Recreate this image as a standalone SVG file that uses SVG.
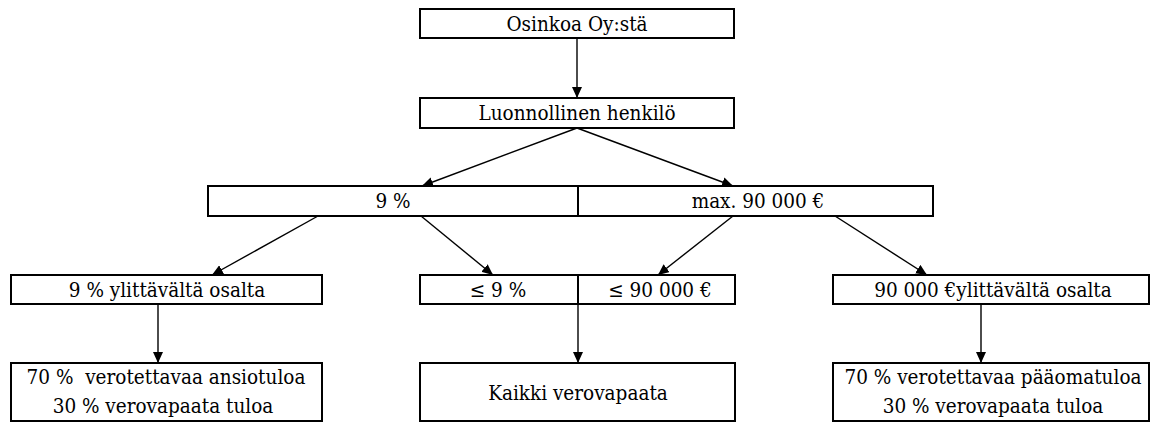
<svg xmlns="http://www.w3.org/2000/svg" width="1159" height="423" viewBox="0 0 1159 423">
<style>
.box{fill:#fff;stroke:#000;stroke-width:2}
.div{stroke:#000;stroke-width:2}
.t{font-family:"DejaVu Serif Condensed","DejaVu Serif",serif;font-size:20.5px;fill:#000;text-anchor:middle;white-space:pre}
.c{stroke:#000;stroke-width:1.4;fill:none;marker-end:url(#ah)}
</style>
<defs>
<marker id="ah" markerUnits="userSpaceOnUse" markerWidth="12" markerHeight="10" refX="11" refY="5" orient="auto">
<path d="M0,0 L11,5 L0,10 z" fill="#000"/>
</marker>
</defs>
<rect width="1159" height="423" fill="#fff"/>
<g id="connectors">
<line class="c" x1="577" y1="38" x2="577" y2="98"/>
<line class="c" x1="577" y1="128" x2="422" y2="186"/>
<line class="c" x1="577" y1="128" x2="733" y2="186"/>
<line class="c" x1="318" y1="216" x2="212" y2="275"/>
<line class="c" x1="421" y1="216" x2="493" y2="275"/>
<line class="c" x1="733" y1="216" x2="658" y2="275"/>
<line class="c" x1="835" y1="216" x2="927" y2="275"/>
<line class="c" x1="158" y1="304" x2="158" y2="363"/>
<line class="c" x1="578" y1="304" x2="578" y2="363"/>
<line class="c" x1="981" y1="304" x2="981" y2="363"/>
</g>
<g id="n1">
<rect class="box" x="420" y="9" width="314" height="29"/>
<text class="t" x="577" y="31">Osinkoa Oy:stä</text>
</g>
<g id="n2">
<rect class="box" x="420" y="98" width="314" height="30"/>
<text class="t" x="577" y="120">Luonnollinen henkilö</text>
</g>
<g id="n3">
<rect class="box" x="208" y="186" width="725" height="30"/>
<line class="div" x1="578" y1="186" x2="578" y2="216"/>
<text class="t" x="393" y="208">9 %</text>
<text class="t" x="758" y="208">max. 90 000 €</text>
</g>
<g id="n4a">
<rect class="box" x="11" y="275" width="311" height="29"/>
<text class="t" x="167" y="297">9 % ylittävältä osalta</text>
</g>
<g id="n4b">
<rect class="box" x="420" y="275" width="315" height="29"/>
<line class="div" x1="578" y1="275" x2="578" y2="304"/>
<text class="t" x="498" y="297">≤ 9 %</text>
<text class="t" x="660" y="297">≤ 90 000 €</text>
</g>
<g id="n4c">
<rect class="box" x="833" y="275" width="316" height="29"/>
<text class="t" x="993" y="297">90 000 €ylittävältä osalta</text>
</g>
<g id="n5a">
<rect class="box" x="11" y="363" width="311" height="58"/>
<text class="t" x="166" y="384">70 %  verotettavaa ansiotuloa</text>
<text class="t" x="163" y="413">30 % verovapaata tuloa</text>
</g>
<g id="n5b">
<rect class="box" x="420" y="363" width="315" height="58"/>
<text class="t" x="578" y="400">Kaikki verovapaata</text>
</g>
<g id="n5c">
<rect class="box" x="833" y="363" width="316" height="58"/>
<text class="t" x="993" y="384">70 % verotettavaa pääomatuloa</text>
<text class="t" x="993" y="413">30 % verovapaata tuloa</text>
</g>
</svg>
